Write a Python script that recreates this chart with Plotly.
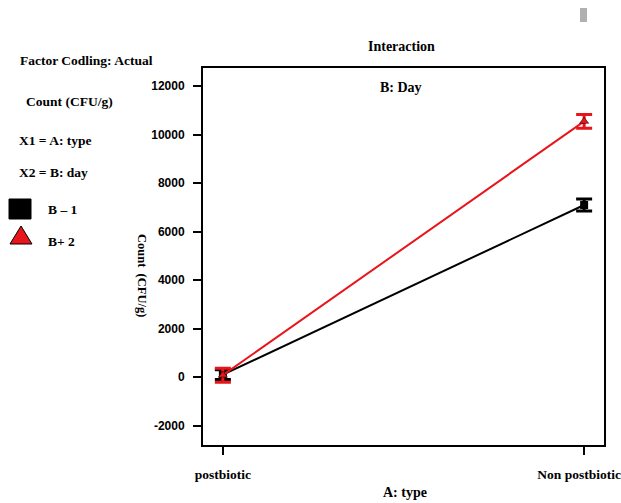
import plotly.graph_objects as go

categories = ["postbiotic", "Non postbiotic"]
b1_values = [100, 7100]
b1_errors = [200, 250]
b2_values = [80, 10550]
b2_errors = [290, 280]
y_ticks = [-2000, 0, 2000, 4000, 6000, 8000, 10000, 12000]

serif = "Liberation Serif"
sans = "Liberation Sans"

fig = go.Figure()
fig.add_trace(go.Scatter(
    x=[0, 1], y=b1_values, mode="lines+markers", name="B – 1",
    line=dict(color="black", width=2),
    marker=dict(symbol="square", size=8, color="black"),
    error_y=dict(type="data", array=b1_errors, color="black", thickness=3, width=8),
))
fig.add_trace(go.Scatter(
    x=[0, 1], y=b2_values, mode="lines+markers", name="B+ 2",
    line=dict(color="#e8151b", width=2),
    marker=dict(symbol="triangle-up", size=8, color="#e8151b", line=dict(color="black", width=0.5)),
    error_y=dict(type="data", array=b2_errors, color="#e8151b", thickness=3, width=8),
))

fig.update_layout(
    width=621, height=503,
    margin=dict(l=203, r=17, t=68, b=58, autoexpand=False),
    paper_bgcolor="white", plot_bgcolor="white",
    showlegend=False,
    font=dict(family=serif, color="black"),
)
tick_text = ["<b>" + categories[0] + "</b>",
             "<b>" + categories[1] + "</b>&nbsp;&nbsp;&nbsp;"]
fig.update_xaxes(
    range=[-0.055, 1.055], tickvals=[0, 1], ticktext=tick_text,
    showline=True, linecolor="black", linewidth=2, mirror=True,
    ticks="outside", ticklen=8, tickwidth=1.5, tickcolor="black",
    showgrid=False, zeroline=False, ticklabeloverflow="allow", automargin=False,
    tickfont=dict(family=serif, size=13.5, color="black"), ticklabelstandoff=8,
)
fig.update_yaxes(
    range=[-2800, 12750], tickvals=y_ticks, ticktext=["<b>%d</b>" % v for v in y_ticks],
    showline=True, linecolor="black", linewidth=2, mirror=True,
    ticks="outside", ticklen=8, tickwidth=1.5, tickcolor="black",
    showgrid=False, zeroline=False, automargin=False,
    tickfont=dict(family=sans, size=12, color="black"), ticklabelstandoff=6,
)

def ann(text, x, y, size=13.5, **kw):
    fig.add_annotation(text="<b>" + text + "</b>", x=x, y=y, xref="paper", yref="paper",
                       xanchor=kw.pop("xanchor", "left"), yanchor="middle", showarrow=False,
                       font=dict(family=serif, size=size, color="black"), **kw)

# convert screenshot pixel coords to paper coords
W0, W1 = 203, 604
H0, H1 = 68, 445
def px(x):
    return (x - W0) / (W1 - W0)
def py(y):
    return (H1 - y) / (H1 - H0)

ann("Interaction", px(401), py(46), size=14, xanchor="center")
ann("B: Day", px(401), py(88), size=14, xanchor="center")
ann("A: type", px(405), py(492), size=14, xanchor="center")
ann("Factor Codling: Actual", px(18), py(60))
ann("Count (CFU/g)", px(24), py(102))
ann("X1 = A: type", px(17), py(140))
ann("X2 = B: day", px(17), py(172))
ann("B – 1", px(46), py(209))
ann("B+ 2", px(46), py(241))
fig.add_annotation(text="<b>Count  (CFU/g)</b>", x=px(142), y=py(275), xref="paper", yref="paper",
                   xanchor="center", yanchor="middle",
                   textangle=90, showarrow=False, font=dict(family=serif, size=12.5, color="black"))

# legend symbols
fig.add_shape(type="rect", xref="paper", yref="paper",
              x0=px(9), x1=px(31), y0=py(219), y1=py(199), fillcolor="black", line=dict(color="black", width=1))
fig.add_shape(type="path", xref="paper", yref="paper",
              path="M %f %f L %f %f L %f %f Z" % (px(10), py(244), px(32), py(244), px(21), py(226)),
              fillcolor="#e8151b", line=dict(color="black", width=1))
# gray mark top right
fig.add_shape(type="rect", xref="paper", yref="paper",
              x0=px(580), x1=px(587), y0=py(22), y1=py(8), fillcolor="#b0b0b0", line=dict(width=0))

# remove the default 8px page margin so the figure fills the window exactly
fig.write_html("out.html", config={"displayModeBar": False},
               post_script="document.body.style.margin='0';")
